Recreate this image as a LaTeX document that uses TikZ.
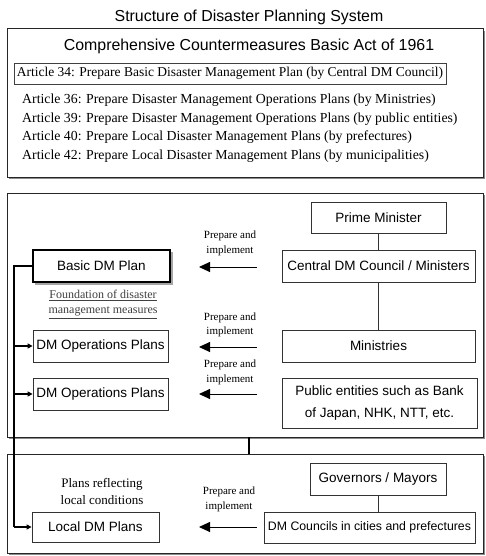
\documentclass[tikz,border=0pt]{standalone}
\usepackage{fontspec}
\setmainfont{Liberation Serif}
\setsansfont{Liberation Sans}
\usetikzlibrary{arrows.meta}
\tikzset{
  outer/.style={draw=black!85, line width=1pt},
  shadowbox/.style={fill=black!45, draw=none},
  box/.style={draw=black!80, line width=0.8pt, font=\sffamily\fontsize{13.5}{15}\selectfont, inner sep=0pt, align=center},
  thickbox/.style={draw=black, line width=2.6pt, font=\sffamily\fontsize{13.5}{15}\selectfont, inner sep=0pt},
  lbl/.style={font=\rmfamily\fontsize{11}{14.5}\selectfont, align=center, inner sep=0pt},
  art/.style={font=\rmfamily\fontsize{13.8}{16}\selectfont, inner sep=0pt, anchor=base west},
  head/.style={font=\sffamily\fontsize{15.9}{18}\selectfont, inner sep=0pt, anchor=base},
  link/.style={draw=black!80, line width=0.8pt},
  feed/.style={draw=black, line width=1.8pt},
  parr/.style={draw=black, line width=0.9pt, -{Triangle[length=11pt,width=10pt]}},
  farr/.style={draw=black, line width=1.8pt, -{Triangle[length=5pt,width=5pt]}},
}
\begin{document}
\begin{tikzpicture}[x=1pt,y=-1pt]
\useasboundingbox (0,0) rectangle (485,556);
% title
\node[head] (title) at (249,22) {Structure of Disaster Planning System};
% top box
\fill[shadowbox] (9,31) rectangle (485,179);
\draw[outer, fill=white] (7,29) rectangle (483,177);
\node[head] (act) at (249,50.5) {Comprehensive Countermeasures Basic Act of 1961};
\node[art, font=\rmfamily\fontsize{13.5}{16}\selectfont, draw=black!75, line width=0.7pt, minimum width=432pt, minimum height=21pt, anchor=center, inner xsep=3pt, text depth=3pt, text height=10pt] (a34) at (230,73.5) {Article 34: Prepare Basic Disaster Management Plan (by Central DM Council)};
\node[art] (a36) at (22,104) {Article 36: Prepare Disaster Management Operations Plans (by Ministries)};
\node[art] (a39) at (22,122.5) {Article 39: Prepare Disaster Management Operations Plans (by public entities)};
\node[art] (a40) at (22,141) {Article 40: Prepare Local Disaster Management Plans (by prefectures)};
\node[art] (a42) at (22,159.5) {Article 42: Prepare Local Disaster Management Plans (by municipalities)};
% middle box
\fill[shadowbox] (9,195) rectangle (485,439);
\draw[outer, fill=white] (7,193) rectangle (483,437);
% bottom box
\fill[shadowbox] (9,456) rectangle (485,555);
\draw[outer, fill=white] (7,454) rectangle (483,553);
% national nodes
\node[box, minimum width=135pt, minimum height=31pt] (pm) at (378.5,217.5) {Prime Minister};
\node[box, minimum width=193pt, minimum height=32pt] (cdm) at (378.5,266) {Central DM Council / Ministers};
\node[box, minimum width=193pt, minimum height=32pt] (min) at (378.5,346) {Ministries};
\node[box, minimum width=195pt, minimum height=50pt, font=\sffamily\fontsize{13.5}{22}\selectfont] (pub) at (379.5,403) {Public entities such as Bank\\of Japan, NHK, NTT, etc.};
\draw[link] (pm.south) -- (cdm.north);
\draw[link] (cdm.south) -- (min.north);
% plans
\fill[black!35] (35,252) rectangle (173,285);
\node[thickbox, fill=white, minimum width=137pt, minimum height=32pt] (basic) at (101.5,266) {Basic DM Plan};
\node[box, minimum width=135pt, minimum height=32pt] (ops1) at (100.5,346) {DM Operations Plans};
\node[box, minimum width=135pt, minimum height=32pt] (ops2) at (100.5,394) {DM Operations Plans};
\node[lbl, font=\rmfamily\fontsize{12}{15}\selectfont, text=black!75] (found) at (103,304.5) {\underline{Foundation of disaster}\\\underline{management measures}};
% arrows and labels
\coordinate (s1) at (257,267); \coordinate (e1) at (199,267);
\coordinate (s2) at (257,347); \coordinate (e2) at (199,347);
\coordinate (s3) at (257,394); \coordinate (e3) at (199,394);
\coordinate (s4) at (257,527); \coordinate (e4) at (199,527);
\draw[parr] (s1) -- (e1);
\draw[parr] (s2) -- (e2);
\draw[parr] (s3) -- (e3);
\draw[parr] (s4) -- (e4);
\node[lbl] (l1) at (230,243.5) {Prepare and\\implement};
\node[lbl] (l2) at (230,325) {Prepare and\\implement};
\node[lbl] (l3) at (230,372.5) {Prepare and\\implement};
\node[lbl] (l4) at (229,499.5) {Prepare and\\implement};
% local
\node[box, minimum width=136pt, minimum height=32pt] (gov) at (378,479.5) {Governors / Mayors};
\node[box, minimum width=211pt, minimum height=31pt, font=\sffamily\fontsize{12.3}{14}\selectfont] (dmc) at (369.5,527.5) {DM Councils in cities and prefectures};
\draw[link] (gov.south) -- (gov.south |- dmc.north);
\node[box, minimum width=127pt, minimum height=30pt] (local) at (95.5,527) {Local DM Plans};
\node[lbl, font=\rmfamily\fontsize{13}{17}\selectfont] (refl) at (102,491.5) {Plans reflecting\\local conditions};
% connector between sections
\coordinate (c1) at (249,437); \coordinate (c2) at (249,454);
\draw[feed] (c1) -- (c2);
% feed line
\coordinate (fx) at (14,266);
\draw[feed] (basic.west) -- (fx) -- (fx |- local.west);
\draw[farr] (fx |- ops1.west) -- (ops1.west);
\draw[farr] (fx |- ops2.west) -- (ops2.west);
\draw[farr] (fx |- local.west) -- (local.west);
\end{tikzpicture}
\end{document}
